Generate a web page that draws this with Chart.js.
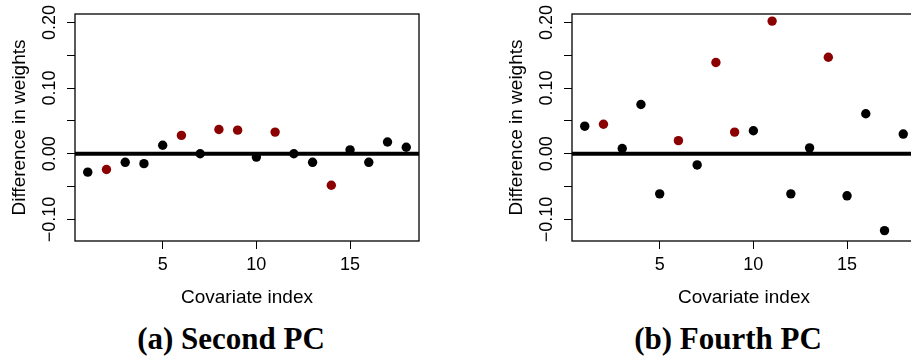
<!DOCTYPE html>
<html>
<head>
<meta charset="utf-8">
<script src="https://cdn.jsdelivr.net/npm/chart.js@4.4.0/dist/chart.umd.min.js"></script>
<style>
  html, body { margin: 0; padding: 0; background: #fff; overflow: hidden; width: 911px; height: 358px; }
  canvas { position: absolute; top: 0; }
  #panelA { left: 0; }
  #panelB { left: 497px; }
  .caption { position: absolute; top: 323px; width: 300px; text-align: center;
    font: bold 31px "Liberation Serif", "Times New Roman", serif; line-height: 31px; color: #000; }
</style>
</head>
<body>
<canvas id="panelA" width="455" height="312"></canvas>
<canvas id="panelB" width="455" height="312"></canvas>
<div class="caption" style="left:81px">(a) Second PC</div>
<div class="caption" style="left:578px">(b) Fourth PC</div>
<script>
// covariate index 1..18
const covIndex = [1, 2, 3, 4, 5, 6, 7, 8, 9, 10, 11, 12, 13, 14, 15, 16, 17, 18];
// highlighted (dark red) covariates
const redCovs = [2, 6, 8, 9, 11, 14];

const secondPC = [-0.028, -0.024, -0.013, -0.015, 0.013, 0.028, 0.000, 0.037, 0.036,
                  -0.005, 0.033, 0.000, -0.013, -0.048, 0.006, -0.013, 0.018, 0.010];
const fourthPC = [0.042, 0.045, 0.008, 0.075, -0.061, 0.020, -0.017, 0.139, 0.033,
                  0.035, 0.202, -0.061, 0.009, 0.147, -0.064, 0.061, -0.117, 0.030];

const xTicks = [5, 10, 15];
const yTicks = [-0.10, -0.05, 0.00, 0.05, 0.10, 0.15, 0.20];
const yLabelValues = [-0.10, 0.00, 0.10, 0.20];
const yTickLabels = ['\u22120.10', '0.00', '0.10', '0.20'];

Chart.defaults.font.family = '"Liberation Sans", Arial, sans-serif';
Chart.defaults.color = '#000';

// R style: labels on the y axis written upward
const rotatedYLabels = {
  id: 'rotatedYLabels',
  afterDraw(chart) {
    const ys = chart.scales.y;
    const ctx = chart.ctx;
    ctx.save();
    ctx.font = '18px "Liberation Sans", Arial, sans-serif';
    ctx.fillStyle = '#000';
    ctx.textAlign = 'center';
    ctx.textBaseline = 'middle';
    yLabelValues.forEach((v, i) => {
      ctx.save();
      ctx.translate(chart.chartArea.left - 25, ys.getPixelForValue(v));
      ctx.rotate(-Math.PI / 2);
      ctx.fillText(yTickLabels[i], 0, 0);
      ctx.restore();
    });
    ctx.restore();
  }
};

// box around the plot region
const frameBox = {
  id: 'frameBox',
  afterDraw(chart) {
    const a = chart.chartArea, ctx = chart.ctx;
    ctx.save();
    ctx.strokeStyle = '#000';
    ctx.lineWidth = 1.3;
    ctx.strokeRect(a.left, a.top, a.right - a.left, a.bottom - a.top);
    ctx.restore();
  }
};

function makePanel(id, values) {
  const xMin = 0.32, xMax = 18.68;
  const pts = covIndex.map((c, i) => ({ x: c, y: values[i] }));
  const colors = covIndex.map(c => redCovs.includes(c) ? '#8b0000' : '#000000');

  new Chart(document.getElementById(id).getContext('2d'), {
    type: 'scatter',
    data: {
      datasets: [
        {
          type: 'line',
          data: [{ x: xMin, y: 0 }, { x: xMax, y: 0 }],
          borderColor: '#000',
          borderWidth: 4,
          pointRadius: 0,
          order: 2
        },
        {
          data: pts,
          backgroundColor: colors,
          borderWidth: 0,
          pointRadius: 4.7,
          order: 1
        }
      ]
    },
    options: {
      responsive: false,
      animation: false,
      devicePixelRatio: 1,
      layout: { padding: { left: 0, top: 14, right: 36, bottom: 0 } },
      plugins: { legend: { display: false }, tooltip: { enabled: false } },
      scales: {
        x: {
          type: 'linear',
          min: xMin,
          max: xMax,
          afterFit: s => { s.height = 71; },
          afterBuildTicks: s => { s.ticks = xTicks.map(v => ({ value: v })); },
          border: { display: false },
          grid: { drawOnChartArea: false, drawTicks: true, tickLength: 8, color: '#000', lineWidth: 1 },
          ticks: { font: { size: 18 }, color: '#000', padding: 5, autoSkip: false, maxRotation: 0 },
          title: { display: true, text: 'Covariate index', font: { size: 19 }, color: '#000', padding: { top: 0, bottom: 3 } }
        },
        y: {
          type: 'linear',
          min: -0.1328,
          max: 0.2128,
          afterFit: s => { s.width = 75; },
          afterBuildTicks: s => { s.ticks = yTicks.map(v => ({ value: v })); },
          border: { display: false },
          grid: { drawOnChartArea: false, drawTicks: true, tickLength: 8, color: '#000', lineWidth: 1 },
          ticks: { display: false },
          title: { display: true, text: 'Difference in weights', font: { size: 19 }, color: '#000', padding: { top: 8, bottom: 0 } }
        }
      }
    },
    plugins: [rotatedYLabels, frameBox]
  });
}

makePanel('panelA', secondPC);
makePanel('panelB', fourthPC);
</script>
</body>
</html>
